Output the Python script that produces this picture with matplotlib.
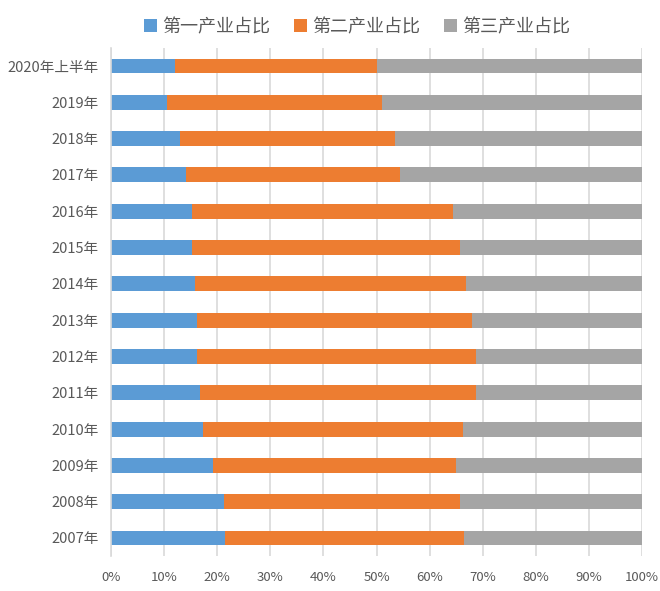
import numpy as np
import matplotlib
matplotlib.use("Agg")
import matplotlib.pyplot as plt

plt.rcParams['font.family'] = ['Noto Sans CJK SC', 'DejaVu Sans']

# categories listed top to bottom
years = ['2020年上半年', '2019年', '2018年', '2017年', '2016年', '2015年', '2014年',
         '2013年', '2012年', '2011年', '2010年', '2009年', '2008年', '2007年']
primary = [12.0, 10.5, 13.1, 14.1, 15.2, 15.2, 15.9, 16.3, 16.3, 16.7, 17.3, 19.2, 21.2, 21.5]
secondary = [38.0, 40.5, 40.3, 40.4, 49.1, 50.6, 51.0, 51.6, 52.4, 52.0, 48.9, 45.7, 44.6, 44.9]
tertiary = [50.0, 49.0, 46.6, 45.5, 35.7, 34.2, 33.1, 32.1, 31.3, 31.3, 33.8, 35.1, 34.2, 33.6]
labels = ['第一产业占比', '第二产业占比', '第三产业占比']
colors = ['#5B9BD5', '#ED7D31', '#A5A5A5']

fig = plt.figure(figsize=(6.6, 5.91), dpi=100)
ax = fig.add_axes([0.168, 0.059, 0.805, 0.86])

y = np.arange(len(years))
left = np.zeros(len(years))
for vals, lab, c in zip([primary, secondary, tertiary], labels, colors):
    v = np.array(vals)
    ax.barh(y, v, left=left, height=0.41, color=c, label=lab, zorder=3)
    left = left + v

ax.set_xlim(0, 100)
ax.set_ylim(len(years) - 0.5, -0.5)
ax.set_yticks(y)
ax.set_yticklabels(years)
ax.set_xticks(np.arange(0, 101, 10))
ax.set_xticklabels([f'{t}%' for t in range(0, 101, 10)])
ax.tick_params(axis='both', length=0, colors='#595959', labelsize=10.5)
ax.tick_params(axis='x', pad=11, labelsize=9.5)
ax.tick_params(axis='y', pad=9)

ax.grid(axis='x', color='#D9D9D9', linewidth=1.2, zorder=0)
for s in ['top', 'right', 'bottom']:
    ax.spines[s].set_visible(False)
ax.spines['left'].set_color('#D9D9D9')
ax.spines['left'].set_linewidth(1.2)
ax.spines['left'].set_zorder(4)

fig.legend(loc='center', bbox_to_anchor=(0.541, 0.954), ncol=3, frameon=False,
           fontsize=13, handlelength=0.72, handleheight=0.72, handletextpad=0.33,
           columnspacing=1.28, labelcolor='#595959', borderpad=0)

fig.savefig('out.png', dpi=100)
